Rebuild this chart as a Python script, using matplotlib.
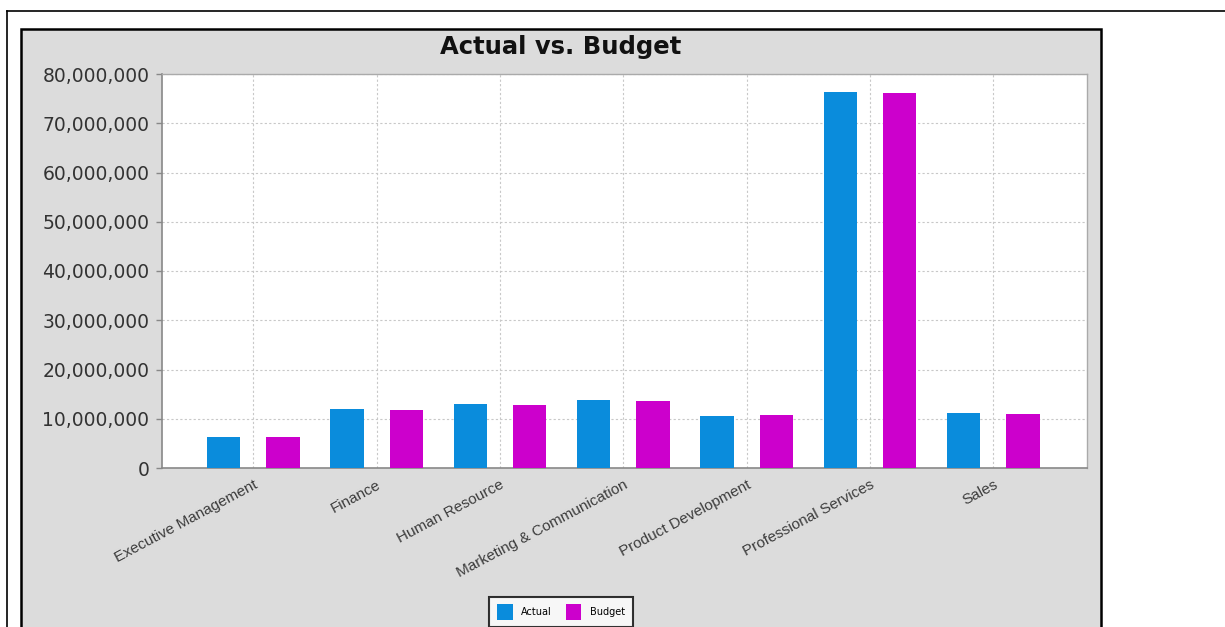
"""
Actual vs. Budget par département — histogramme groupé.

Sortie : out.png (1225x627)
"""

import matplotlib
matplotlib.use("Agg")
import matplotlib.pyplot as plt
import numpy as np
from matplotlib.lines import Line2D
from matplotlib.patches import Patch, Rectangle
from matplotlib.ticker import FuncFormatter

DEPARTEMENTS = [
    "Executive Management",
    "Finance",
    "Human Resource",
    "Marketing & Communication",
    "Product Development",
    "Professional Services",
    "Sales",
]
ACTUAL = [6_230_000, 12_050_000, 13_000_000, 13_800_000, 10_620_000, 76_400_000, 11_100_000]
BUDGET = [6_360_000, 11_840_000, 12_860_000, 13_670_000, 10_760_000, 76_100_000, 10_900_000]
Y_TICKS = list(range(0, 80_000_001, 10_000_000))

BLEU = "#0A8CDC"
MAGENTA = "#CC00CC"
GRIS_FOND = "#DCDCDC"

W, H = 1225, 627  # pixels


def px_x(x):
    return x / W


def px_y(y):
    return 1 - y / H


def main() -> None:
    fig = plt.figure(figsize=(W / 100, H / 100), dpi=100)
    fig.patch.set_facecolor("white")

    # cadre extérieur fin (haut + gauche)
    fig.add_artist(Line2D([px_x(7), 1], [px_y(11), px_y(11)], color="black", lw=1.2))
    fig.add_artist(Line2D([px_x(7), px_x(7)], [px_y(11), 0], color="black", lw=1.2))

    # panneau gris du graphe, coupé en bas
    fig.add_artist(Rectangle((px_x(21), px_y(660)), px_x(1101 - 21), (660 - 29) / H,
                             facecolor=GRIS_FOND, edgecolor="black", lw=1.8,
                             transform=fig.transFigure, zorder=0))

    ax = fig.add_axes([px_x(162), px_y(468), px_x(1087 - 162), (468 - 74) / H])
    ax.set_facecolor("white")

    x = np.arange(len(DEPARTEMENTS))
    larg = 0.27
    ax.bar(x - 0.24, ACTUAL, width=larg, color=BLEU, zorder=3)
    ax.bar(x + 0.24, BUDGET, width=larg, color=MAGENTA, zorder=3)

    ax.set_xlim(-0.74, len(DEPARTEMENTS) - 1 + 0.76)
    ax.set_ylim(0, 80_000_000)
    ax.set_yticks(Y_TICKS)
    ax.yaxis.set_major_formatter(FuncFormatter(lambda v, _: f"{v:,.0f}"))
    ax.tick_params(axis="y", length=4, width=1, color="#888888", pad=5,
                   labelsize=13.5, labelcolor="#333333")

    ax.set_xticks(x)
    ax.set_xticklabels(DEPARTEMENTS, rotation=28, ha="right", rotation_mode="anchor",
                       family="Liberation Sans", fontsize=11, color="#3C3C3C")
    ax.tick_params(axis="x", length=0, pad=7)

    ax.grid(True, color="#C8C8C8", lw=0.8, linestyle=(0, (2, 2)), zorder=0)
    ax.set_axisbelow(True)
    for nom, sp in ax.spines.items():
        sp.set_color("#888888" if nom in ("left", "bottom") else "#AAAAAA")
        sp.set_linewidth(1.2 if nom in ("left", "bottom") else 1)

    fig.text(px_x(561), px_y(47), "Actual vs. Budget", ha="center", va="center",
             fontsize=17.5, fontweight="bold", color="#111111")

    handles = [Patch(facecolor=BLEU, label="Actual"), Patch(facecolor=MAGENTA, label="Budget")]
    leg = fig.legend(handles=handles, loc="center", bbox_to_anchor=(px_x(561), px_y(612)),
                     ncol=2, fontsize=7, frameon=True, fancybox=False,
                     handlelength=1.6, handleheight=2.0, handletextpad=0.9,
                     columnspacing=1.4, borderpad=0.8)
    leg.get_frame().set_edgecolor("black")
    leg.get_frame().set_linewidth(1.5)

    fig.savefig("out.png", dpi=100)
    plt.close(fig)


if __name__ == "__main__":
    main()
